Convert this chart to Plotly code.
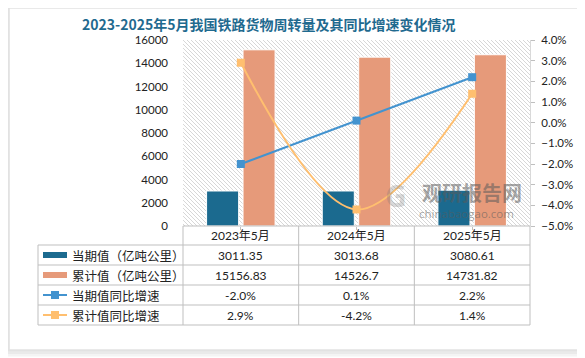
import base64
import plotly.graph_objects as go

# ---------------- data ----------------
categories = ["2023年5月", "2024年5月", "2025年5月"]
current_vals = [3011.35, 3013.68, 3080.61]          # 当期值（亿吨公里）
cumulative_vals = [15156.83, 14526.7, 14731.82]     # 累计值（亿吨公里）
current_growth = [-2.0, 0.1, 2.2]                   # 当期值同比增速 (%)
cumulative_growth = [2.9, -4.2, 1.4]                # 累计值同比增速 (%)
series_names = ["当期值（亿吨公里）", "累计值（亿吨公里）", "当期值同比增速", "累计值同比增速"]
title_text = "2023-2025年5月我国铁路货物周转量及其同比增速变化情况"

# ---------------- styles ----------------
OFF = 8                     # default page margin of the html body
W, H = 585 - OFF, 358 - OFF
C_BAR1 = "#1B6A8F"
C_BAR2 = "#E69A7A"
C_LINE1 = "#4393CF"
C_LINE2 = "#FFBF6F"
C_TITLE = "#1F6A8F"
C_GRID = "#BFBFBF"
FONT = "Lato, 'Noto Sans CJK SC', sans-serif"
CJK = "'Noto Sans CJK SC', sans-serif"


def px(x):
    return (x - OFF) / W


def py(y):
    return 1 - (y - OFF) / H


PL, PR, PT, PB = 183, 530, 40, 226  # plot area in window pixels

fig = go.Figure()
fig.add_trace(go.Bar(x=categories, y=current_vals, name=series_names[0],
                     marker=dict(color=C_BAR1, line=dict(color="white", width=1))))
fig.add_trace(go.Bar(x=categories, y=cumulative_vals, name=series_names[1],
                     marker=dict(color=C_BAR2, line=dict(color="white", width=1))))
fig.add_trace(go.Scatter(x=categories, y=current_growth, name=series_names[2], yaxis="y2",
                         mode="lines+markers", line=dict(color=C_LINE1, width=2),
                         marker=dict(symbol="square", size=8, color=C_LINE1)))
fig.add_trace(go.Scatter(x=categories, y=cumulative_growth, name=series_names[3], yaxis="y2",
                         mode="lines+markers", line=dict(color=C_LINE2, width=2, shape="spline", smoothing=1),
                         marker=dict(symbol="square", size=8, color=C_LINE2)))

# hatch background of plot area
pw, ph = PR - PL, PB - PT
svg = (f'<svg xmlns="http://www.w3.org/2000/svg" width="{pw}" height="{ph}" viewBox="0 0 {pw} {ph}">'
       '<defs><pattern id="p" width="4" height="4" patternUnits="userSpaceOnUse">'
       '<path d="M-1,-1 L5,5 M3,-1 L5,1 M-1,3 L1,5" stroke="#D2D2D2" stroke-width="0.9"/>'
       '</pattern></defs>'
       f'<rect width="{pw}" height="{ph}" fill="white"/><rect width="{pw}" height="{ph}" fill="url(#p)"/></svg>')
src = "data:image/svg+xml;base64," + base64.b64encode(svg.encode()).decode()

shapes = []
annotations = []

# card shadow
for off, wdt, col in [(6, 3, "#F4F4F4"), (3.5, 3, "#EAEAEA"), (1.2, 2, "#E2E2E2")]:
    shapes.append(dict(type="rect", xref="paper", yref="paper",
                       x0=px(10 - off), x1=px(577 + off), y0=py(9 - off), y1=py(349 + off),
                       line=dict(color=col, width=wdt), fillcolor="rgba(0,0,0,0)", layer="below"))

# table grid
rows_y = [245, 265, 285, 305, 325]
col_w = (PR - PL) / len(categories)
col_x = [PL + i * col_w for i in range(len(categories) + 1)]
TL = 38


def hline(x0, x1, y):
    shapes.append(dict(type="line", xref="paper", yref="paper", x0=px(x0), x1=px(x1),
                       y0=py(y), y1=py(y), line=dict(color=C_GRID, width=1)))


def vline(x, y0, y1):
    shapes.append(dict(type="line", xref="paper", yref="paper", x0=px(x), x1=px(x),
                       y0=py(y0), y1=py(y1), line=dict(color=C_GRID, width=1)))


hline(PL, PR, PB)
for y in rows_y:
    hline(TL, PR, y)
vline(TL, rows_y[0], rows_y[-1])
for x in col_x:
    vline(x, PB, rows_y[-1])


def text(x, y, s, font, xanchor="center"):
    annotations.append(dict(x=px(x), y=py(y), xref="paper", yref="paper", text=s, showarrow=False,
                            xanchor=xanchor, yanchor="middle", font=font))


# header
for i, c in enumerate(categories):
    text(col_x[i] + col_w / 2, (PB + rows_y[0]) / 2, c, dict(family=FONT, size=12, color="#222"))

rows = [
    [str(v) for v in current_vals],
    [str(v) for v in cumulative_vals],
    [f"{v:.1f}%" for v in current_growth],
    [f"{v:.1f}%" for v in cumulative_growth],
]
for r, vals in enumerate(rows):
    yc = (rows_y[r] + rows_y[r + 1]) / 2
    text(70, yc, series_names[r], dict(family=CJK, size=12.5, color="#222"), xanchor="left")
    for i, v in enumerate(vals):
        text(col_x[i] + col_w / 2, yc, v, dict(family=FONT, size=12, color="#222"))
    # legend keys
    if r < 2:
        shapes.append(dict(type="rect", xref="paper", yref="paper", x0=px(43), x1=px(67),
                           y0=py(yc - 3), y1=py(yc + 3), line=dict(width=0),
                           fillcolor=[C_BAR1, C_BAR2][r]))
    else:
        col = [C_LINE1, C_LINE2][r - 2]
        shapes.append(dict(type="line", xref="paper", yref="paper", x0=px(43), x1=px(67),
                           y0=py(yc), y1=py(yc), line=dict(color=col, width=2)))
        shapes.append(dict(type="rect", xref="paper", yref="paper", x0=px(51), x1=px(59),
                           y0=py(yc - 4), y1=py(yc + 4), line=dict(width=0), fillcolor=col))

# title
text(269, 24, f"<b>{title_text}</b>", dict(family=CJK, size=14, color=C_TITLE))
# watermark
text(472, 192, "<b>观研报告网</b>", dict(family=CJK, size=20, color="rgba(90,90,90,0.55)"))
text(467, 214, "chinabaogao.com", dict(family="'Open Sans', sans-serif", size=11.5,
                                       color="rgba(90,90,90,0.55)"))
text(396, 195, "<b>G</b>", dict(family="'Open Sans', sans-serif", size=30, color="rgba(120,120,120,0.3)"))

fig.update_layout(
    width=W, height=H, autosize=False,
    margin=dict(l=0, r=0, t=0, b=0, pad=0, autoexpand=False),
    paper_bgcolor="white", plot_bgcolor="rgba(0,0,0,0)",
    showlegend=False,
    barmode="group", bargap=0.37, bargroupgap=0.12,
    font=dict(family=FONT, size=11.5, color="#222"),
    xaxis=dict(domain=[px(PL), px(PR)], type="category", range=[-0.5, 2.5], automargin=False,
               showticklabels=False, showgrid=False, zeroline=False,
               showline=False, ticks="outside", ticklen=3, tickcolor=C_GRID),
    yaxis=dict(domain=[py(PB), py(PT)], range=[0, 16000], dtick=2000, tickformat="d", automargin=False,
               showgrid=False, zeroline=False, showline=False, ticks="",
               ticklabelstandoff=14, tickfont=dict(family=FONT, size=11.5, color="#222")),
    yaxis2=dict(overlaying="y", side="right", range=[-5, 4], dtick=1, automargin=False,
                tickformat=".1f", ticksuffix="%", showgrid=False, zeroline=False,
                showline=True, linecolor="#D9D9D9", ticks="outside", ticklen=4, tickcolor="#BFBFBF",
                ticklabelstandoff=4, tickfont=dict(family=FONT, size=11.5, color="#222")),
    images=[dict(source=src, xref="paper", yref="paper", x=px(PL), y=py(PT),
                 sizex=px(PR) - px(PL), sizey=py(PT) - py(PB), xanchor="left", yanchor="top",
                 sizing="stretch", layer="below")],
    shapes=shapes,
    annotations=annotations,
)

fig.write_html("out.html")
